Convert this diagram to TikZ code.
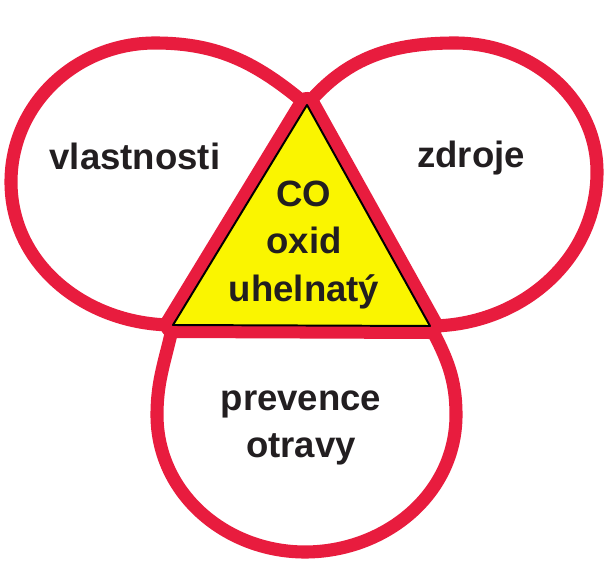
\documentclass[tikz,border=0pt]{standalone}
\usepackage{fontspec}
\setmainfont{Liberation Sans}
\usetikzlibrary{positioning}
\definecolor{cBand}{RGB}{232,28,62}
\definecolor{cTri}{RGB}{250,245,0}
\definecolor{cInk}{RGB}{34,30,32}
\tikzset{
	band/.style   ={draw=cBand, line width=9.3pt, line cap=round, line join=round},
	tri/.style    ={fill=cTri, draw=black, line width=1.4pt, line join=round},
	word/.style   ={text=cInk, font=\fontsize{26}{33.5}\selectfont\bfseries, align=center, inner sep=0pt},
}
\begin{document}
\begin{tikzpicture}[x=0.025cm, y=0.025cm]
	\fill[white] (0,0) rectangle (606,567);
	\useasboundingbox (0,0) rectangle (606,567);
	% vertices of the triangle
	\coordinate (A) at (307,462);
	\coordinate (B) at (173,242);
	\coordinate (C) at (430,241);
	% the three loops
	\draw[band] (A) to[out=140, in=0] (155,524) to[out=180, in=90] (11,385) to[out=270, in=180] (B);
	\draw[band] (A) to[out=50, in=180] (455,524) to[out=0, in=90] (597,395) to[out=270, in=0] (C);
	\draw[band] (B) to[out=258, in=90] (157,152) to[out=270, in=180] (305,15) to[out=0, in=270] (456,152) to[out=90, in=-62] (C);
	% triangle
	\draw[band, line width=18.5pt] (A) -- (B) -- (C) -- cycle;
	\draw[tri] (A) -- (B) -- (C) -- cycle;
	% texts
	\node[word, anchor=base] (vl) at (135,397) {vlastnosti};
	\node[word, anchor=base] (zd) at (471,399) {zdroje};
	\node[word] (co) at (304,322) {CO\\ oxid\\ uhelnatý};
	\node[word] (pr) at (301,139) {prevence\\ otravy};
\end{tikzpicture}
\end{document}
